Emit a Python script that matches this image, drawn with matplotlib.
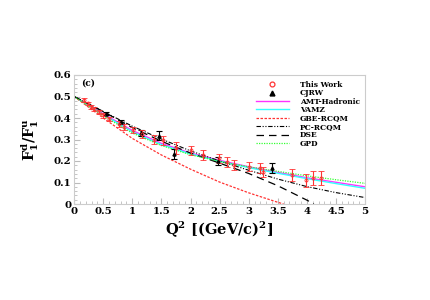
import matplotlib.pyplot as plt
from matplotlib.lines import Line2D
from matplotlib.legend_handler import HandlerLine2D
import numpy as np

# ---- data ----
# "This Work" points
tw_q2 = [0.17, 0.23, 0.29, 0.35, 0.43, 0.50, 0.60, 0.77, 0.86, 1.02, 1.16, 1.37,
         1.53, 1.75, 2.00, 2.22, 2.49, 2.63, 2.75, 3.00, 3.20, 3.24, 3.74, 3.99, 4.10, 4.24]
tw_r = [0.484, 0.468, 0.452, 0.440, 0.428, 0.412, 0.395, 0.372, 0.358, 0.344, 0.325, 0.300,
        0.296, 0.262, 0.250, 0.228, 0.212, 0.195, 0.182, 0.174, 0.166, 0.150, 0.135, 0.110, 0.122, 0.120]
tw_err = [0.008, 0.008, 0.009, 0.009, 0.010, 0.010, 0.011, 0.012, 0.012, 0.014, 0.018, 0.020,
          0.022, 0.028, 0.020, 0.022, 0.022, 0.022, 0.022, 0.022, 0.024, 0.024, 0.028, 0.030, 0.032, 0.032]

# CJRW points
cj_q2 = [0.55, 0.80, 1.15, 1.46, 1.72, 2.48, 3.40]
cj_r = [0.420, 0.380, 0.330, 0.318, 0.232, 0.200, 0.168]
cj_err = [0.008, 0.010, 0.014, 0.022, 0.025, 0.020, 0.022]

# model curves
q2_grid = [0.0, 0.5, 1.0, 1.5, 2.0, 2.5, 3.0, 3.5, 4.0, 4.5, 5.0]
amt = [0.500, 0.420, 0.342, 0.282, 0.237, 0.203, 0.173, 0.147, 0.122, 0.101, 0.080]
vamz = [0.500, 0.416, 0.336, 0.276, 0.233, 0.199, 0.169, 0.143, 0.118, 0.095, 0.073]
gpd = [0.500, 0.410, 0.330, 0.272, 0.229, 0.198, 0.173, 0.152, 0.131, 0.113, 0.096]
pc_rcqm = [0.500, 0.430, 0.362, 0.302, 0.247, 0.200, 0.157, 0.116, 0.081, 0.053, 0.030]

dse_q2 = [0.0, 0.5, 1.0, 1.5, 2.0, 2.5, 3.0, 3.5, 4.0, 4.12]
dse = [0.500, 0.430, 0.355, 0.292, 0.237, 0.190, 0.142, 0.085, 0.018, 0.0]

gbe_q2 = [0.0, 0.5, 1.0, 1.5, 2.0, 2.5, 3.0, 3.5, 3.6]
gbe = [0.500, 0.400, 0.305, 0.228, 0.162, 0.102, 0.052, 0.008, 0.0]

plt.rcParams['font.family'] = 'DejaVu Serif'
plt.rcParams['font.weight'] = 'bold'
plt.rcParams['axes.labelweight'] = 'bold'
plt.rcParams['mathtext.fontset'] = 'custom'
plt.rcParams['mathtext.rm'] = 'DejaVu Serif:bold'
plt.rcParams['mathtext.it'] = 'DejaVu Serif:bold'
plt.rcParams['mathtext.bf'] = 'DejaVu Serif:bold'

red = '#ff3333'


# legend markers sit at the right end of the handle, as in ROOT
class RightMarker(HandlerLine2D):
    def get_xdata(self, legend, xdescent, ydescent, width, height, fontsize):
        xdata, _ = super().get_xdata(legend, xdescent, ydescent, width, height, fontsize)
        return xdata, [width - xdescent - 0.1 * width]


fig = plt.figure(figsize=(4.31, 3.0), dpi=100)
ax = fig.add_axes([0.172, 0.32, 0.675, 0.43])

ax.plot(q2_grid, amt, color='#ff33ff', lw=1.0)
ax.plot(q2_grid, vamz, color='#33ffff', lw=1.0)
ax.plot(gbe_q2, gbe, color=red, lw=0.9, ls=(0, (2, 1.2)))
ax.plot(q2_grid, pc_rcqm, color='black', lw=0.8, ls=(0, (4, 1.5, 1, 1.5, 1, 1.5)))
ax.plot(dse_q2, dse, color='black', lw=0.9, ls=(0, (6, 4)))
ax.plot(q2_grid, gpd, color='#33ff33', lw=0.9, ls=(0, (1, 1)))

ax.errorbar(cj_q2, cj_r, yerr=cj_err, fmt='^', color='black', ms=2.2, lw=0.8,
            capsize=2, capthick=0.8)
ax.errorbar(tw_q2, tw_r, yerr=tw_err, fmt='o', color=red, mfc='none', ms=2.2,
            mew=0.6, lw=0.8, capsize=2, capthick=0.8)

ax.set_xlim(0, 5)
ax.set_ylim(0, 0.6)
ax.set_xticks(np.arange(0, 5.01, 0.5))
ax.set_xticklabels(['0', '0.5', '1', '1.5', '2', '2.5', '3', '3.5', '4', '4.5', '5'])
ax.set_yticks(np.arange(0, 0.61, 0.1))
ax.set_yticklabels(['0', '0.1', '0.2', '0.3', '0.4', '0.5', '0.6'])
ax.minorticks_on()
ax.tick_params(which='both', direction='in', color='#bbbbbb', labelsize=7.3, pad=2)
ax.tick_params(which='major', length=4)
ax.tick_params(which='minor', length=2)
for s in ax.spines.values():
    s.set_color('#cccccc')
    s.set_linewidth(0.8)

ax.set_xlabel(r'Q$^2$ [(GeV/c)$^2$]', fontsize=10.5, labelpad=2)
ax.set_ylabel(r'F$_1^\mathrm{d}$/F$_1^\mathrm{u}$', fontsize=10.5)
ax.yaxis.set_label_coords(-0.115, 0.5)
ax.text(0.12, 0.563, '(c)', fontsize=6.5, fontweight='bold', va='center')

handles = [
    Line2D([], [], ls='none', marker='o', mfc='none', mec=red, ms=3.5, mew=0.9),
    Line2D([], [], ls='none', marker='^', color='black', ms=3.5),
    Line2D([], [], color='#ff33ff', lw=1.0),
    Line2D([], [], color='#33ffff', lw=1.0),
    Line2D([], [], color=red, lw=0.9, ls=(0, (2, 1.2))),
    Line2D([], [], color='black', lw=0.8, ls=(0, (4, 1.5, 1, 1.5, 1, 1.5))),
    Line2D([], [], color='black', lw=0.9, ls=(0, (6, 4))),
    Line2D([], [], color='#33ff33', lw=0.9, ls=(0, (1, 1))),
]
labels = ['This Work', 'CJRW', 'AMT-Hadronic', 'VAMZ', 'GBE-RCQM', 'PC-RCQM', 'DSE', 'GPD']
ax.legend(handles, labels, loc='upper right', frameon=False,
          fontsize=5.4, handlelength=4.5, handletextpad=1.4, labelspacing=0.05,
          borderaxespad=0.3, bbox_to_anchor=(1.0, 0.995),
          handler_map={Line2D: RightMarker(numpoints=1)})

fig.savefig('out.png', dpi=100)
